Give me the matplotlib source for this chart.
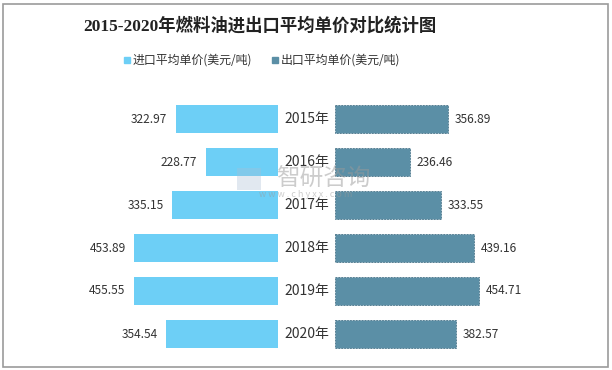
import matplotlib
matplotlib.use("Agg")
import matplotlib.pyplot as plt
from matplotlib.patches import Rectangle

plt.rcParams['font.family'] = ['Noto Sans CJK SC', 'DejaVu Sans']

years = ["2015年", "2016年", "2017年", "2018年", "2019年", "2020年"]
import_price = [322.97, 228.77, 335.15, 453.89, 455.55, 354.54]
export_price = [356.89, 236.46, 333.55, 439.16, 454.71, 382.57]
series_names = ["进口平均单价(美元/吨)", "出口平均单价(美元/吨)"]
title = "2015-2020年燃料油进出口平均单价对比统计图"

c_left = "#6DCFF6"
c_right = "#5B8FA6"
txt = "#333333"

W, H = 612, 370
fig = plt.figure(figsize=(W / 100, H / 100), dpi=100)
ax = fig.add_axes([0, 0, 1, 1])

scale = 0.3165  # px per unit
cx = 306.5
half_gap = (335 - 278) / 2 / scale
ax.set_xlim(-cx / scale, (W - cx) / scale)
row0, step = 119, 43
ax.set_ylim((H - row0) / step, -row0 / step)
ax.axis("off")

ypos = list(range(len(years)))
ax.barh(ypos, [-v for v in import_price], left=-half_gap, height=0.65,
        color=c_left, edgecolor="none")
ax.barh(ypos, export_price, left=half_gap, height=0.65, color=c_right,
        edgecolor="#4a7488", linewidth=0.6, linestyle=(0, (2, 1.5)))

for i, (a, b, yl) in enumerate(zip(import_price, export_price, years)):
    ax.annotate(f"{a:.2f}", (-half_gap - a, i), xytext=(-6, 0),
                textcoords="offset points", ha="right", va="center",
                fontsize=8.6, color=txt)
    ax.annotate(f"{b:.2f}", (half_gap + b, i), xytext=(5, 0),
                textcoords="offset points", ha="left", va="center",
                fontsize=8.6, color=txt)
    ax.text(0, i, yl, ha="center", va="center", fontsize=10, color=txt)

# title
fig.text(260 / W, 1 - 26 / H, title, ha="center", va="center", fontsize=12.5,
         fontweight="bold", color="#222222",
         family=["Liberation Serif", "Noto Sans CJK SC"])

# legend
for sx, name, col in [(127, series_names[0], c_left), (275, series_names[1], c_right)]:
    fig.patches.append(Rectangle(((sx - 3) / W, 1 - 63 / H), 6 / W, 6 / H,
                                 transform=fig.transFigure, color=col))
    fig.text((sx + 6) / W, 1 - 60 / H, name, ha="left", va="center",
             fontsize=8.6, color=txt)

# watermark
fig.text(323 / W, 1 - 179 / H, "智研咨询", ha="center", va="center",
         fontsize=17, color="#9a9a9a", alpha=0.5)
fig.text(306 / W, 1 - 195 / H, "w w w . c h y x x . c o m", ha="center",
         va="center", fontsize=6.5, color="#9a9a9a", alpha=0.5)
fig.patches.append(Rectangle((237 / W, 1 - 190 / H), 24 / W, 22 / H,
                             transform=fig.transFigure, facecolor="#a9bfd6",
                             alpha=0.35, edgecolor="none"))

# border
fig.patches.append(Rectangle((2.5 / W, 1 - 366.5 / H), 605 / W, 363 / H,
                             transform=fig.transFigure, fill=False,
                             edgecolor="#9b9b9b", linewidth=1.2))

fig.savefig("out.png", dpi=100)
